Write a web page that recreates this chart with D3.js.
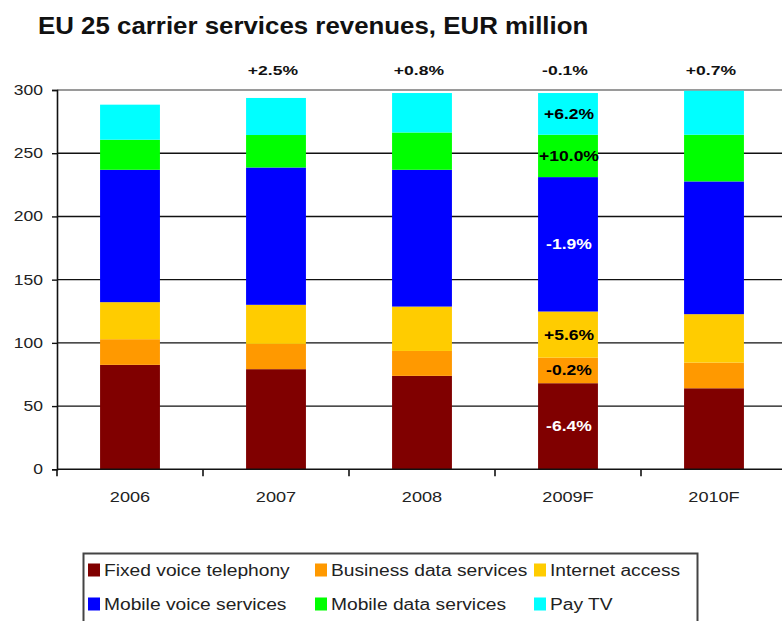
<!DOCTYPE html>
<html><head><meta charset="utf-8">
<script src="https://cdn.jsdelivr.net/npm/d3@7"></script>
<style>
html,body{margin:0;padding:0;background:#fff;}
svg{display:block;font-family:"Liberation Sans",Arial,sans-serif;}
</style></head>
<body><svg id="chart" width="782" height="621"></svg>
<script>
const title = "EU 25 carrier services revenues, EUR million";
const categories = ["2006", "2007", "2008", "2009F", "2010F"];
const seriesNames = ["Fixed voice telephony", "Business data services", "Internet access",
                     "Mobile voice services", "Mobile data services", "Pay TV"];
const seriesColors = ["#800000", "#FF9900", "#FFCC00", "#0000FF", "#00FF00", "#00FFFF"];
const fixedVoice    = [82.6, 79.2, 73.9, 68.1, 64.1];
const businessData  = [20.3, 20.0, 19.7, 20.2, 20.3];
const internetAcc   = [29.3, 30.9, 35.1, 36.5, 38.3];
const mobileVoice   = [104.7, 108.6, 108.2, 106.3, 105.0];
const mobileData    = [23.8, 25.7, 29.5, 33.5, 36.9];
const payTV         = [27.7, 29.3, 31.2, 33.0, 34.8];
const totalGrowth   = ["", "+2.5%", "+0.8%", "-0.1%", "+0.7%"];
const growth2009Category = "2009F";
const growth2009    = ["-6.4%", "-0.2%", "+5.6%", "-1.9%", "+10.0%", "+6.2%"];
const growth2009Colors = ["#fff", "#000", "#000", "#fff", "#000", "#000"];
const yTicks = [0, 50, 100, 150, 200, 250, 300];

const seriesValues = [fixedVoice, businessData, internetAcc, mobileVoice, mobileData, payTV];
const rows = categories.map((c, i) => {
  const r = {cat: c};
  seriesNames.forEach((s, j) => r[s] = seriesValues[j][i]);
  return r;
});
const stacked = d3.stack().keys(seriesNames)(rows);

const svg = d3.select("#chart");
const mLeft = 57, mRight = 787, mTop = 90, mBottom = 469.3;
const x = d3.scaleBand().domain(categories).range([mLeft, mRight]).paddingInner(0.59).paddingOuter(0.295);
const y = d3.scaleLinear().domain([0, 300]).range([mBottom, mTop]);

function stretch(sel, k) {
  sel.each(function() {
    const len = this.getComputedTextLength();
    d3.select(this).attr("textLength", len * k).attr("lengthAdjust", "spacingAndGlyphs");
  });
}

// title
svg.append("text").attr("x", 38).attr("y", 34).attr("font-size", 24.5).attr("font-weight", "bold")
  .attr("fill", "#111").text(title).call(stretch, 1.055);

// gridlines
svg.append("g").selectAll("line").data(yTicks.filter(t => t > 0)).join("line")
  .attr("x1", mLeft).attr("x2", 782).attr("y1", d => y(d)).attr("y2", d => y(d))
  .attr("stroke", d => d === 300 ? "#9a9a9a" : "#111").attr("stroke-width", d => d === 300 ? 2 : 1.4);

// bars
svg.append("g").selectAll("g").data(stacked).join("g")
  .attr("fill", (d, i) => seriesColors[i])
  .selectAll("rect").data(d => d).join("rect")
  .attr("x", d => x(d.data.cat)).attr("width", x.bandwidth())
  .attr("y", d => y(d[1])).attr("height", d => y(d[0]) - y(d[1]));

// y axis
const yAxis = svg.append("g").attr("transform", `translate(${mLeft},0)`)
  .call(d3.axisLeft(y).tickValues(yTicks).tickSize(5).tickPadding(9));
yAxis.select(".domain").attr("stroke", "#111").attr("stroke-width", 1.6);
yAxis.selectAll(".tick line").attr("stroke", "#111").attr("stroke-width", 1.4);
yAxis.selectAll(".tick text").attr("font-size", 14).attr("fill", "#222")
  .attr("font-family", "Liberation Sans, Arial, sans-serif").call(stretch, 1.25);

// x axis
const xPos = d3.scalePoint().domain(d3.range(categories.length + 1)).range([mLeft, mRight]);
const xAxis = svg.append("g").attr("transform", `translate(0,${mBottom})`);
xAxis.append("line").attr("x1", mLeft).attr("x2", 782).attr("stroke", "#111").attr("stroke-width", 1.6);
xAxis.selectAll("line.t").data(d3.range(categories.length + 1)).join("line").attr("class", "t")
  .attr("x1", d => xPos(d)).attr("x2", d => xPos(d)).attr("y1", 0).attr("y2", 7)
  .attr("stroke", "#111").attr("stroke-width", 1.6);
xAxis.selectAll("text").data(categories).join("text")
  .attr("x", d => x(d) + x.bandwidth() / 2).attr("y", 33).attr("text-anchor", "middle")
  .attr("font-size", 14.5).attr("fill", "#222").text(d => d).call(stretch, 1.25);

// total growth labels
svg.append("g").selectAll("text").data(categories).join("text")
  .attr("x", d => x(d) + x.bandwidth() / 2 - 3).attr("y", 75).attr("text-anchor", "middle")
  .attr("font-size", 13.5).attr("font-weight", "bold").attr("fill", "#111")
  .text((d, i) => totalGrowth[i]).call(stretch, 1.3);

// 2009F segment growth labels
const ci = categories.indexOf(growth2009Category);
svg.append("g").selectAll("text").data(stacked).join("text")
  .attr("x", x(growth2009Category) + x.bandwidth() / 2 + 1)
  .attr("y", d => (y(d[ci][0]) + y(d[ci][1])) / 2).attr("dy", "0.36em")
  .attr("text-anchor", "middle").attr("font-size", 14).attr("font-weight", "bold")
  .attr("fill", (d, i) => growth2009Colors[i]).text((d, i) => growth2009[i]).call(stretch, 1.25);

// legend
const lg = svg.append("g");
lg.append("rect").attr("x", 83.5).attr("y", 553.5).attr("width", 614).attr("height", 80)
  .attr("fill", "#fff").attr("stroke", "#444").attr("stroke-width", 2);
const colX = [88, 315, 534];
const rowY = [570, 604];
const items = lg.selectAll("g").data(seriesNames).join("g")
  .attr("transform", (d, i) => `translate(${colX[i % 3]},${rowY[Math.floor(i / 3)]})`);
items.append("rect").attr("x", 0).attr("y", -6.5).attr("width", 12).attr("height", 13)
  .attr("fill", (d, i) => seriesColors[i]);
items.append("text").attr("x", 16).attr("y", 0).attr("dy", "0.35em").attr("font-size", 16)
  .attr("fill", "#222").text(d => d).call(stretch, 1.2);
</script></body></html>
